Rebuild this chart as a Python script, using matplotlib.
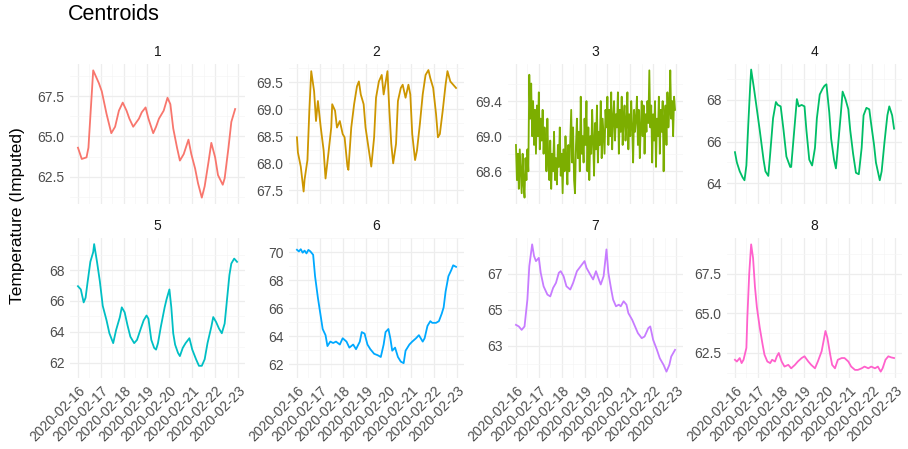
import matplotlib.pyplot as plt
import matplotlib.dates as mdates
from datetime import datetime, timedelta
import numpy as np

plt.rcParams['font.family'] = ['Liberation Sans', 'DejaVu Sans']

start = datetime(2020, 2, 16)
day_labels = ["2020-02-16", "2020-02-17", "2020-02-18", "2020-02-19",
              "2020-02-20", "2020-02-21", "2020-02-22", "2020-02-23"]
colors = ["#F8766D", "#CD9600", "#7CAE00", "#00BE67",
          "#00BFC4", "#00A9FF", "#C77CFF", "#FF61CC"]

# cluster 1
hours_1 = [0, 4, 9, 11, 16, 22, 25, 30, 35, 39, 43, 47, 51, 54, 58, 64, 67, 71, 74, 79,
           82, 85, 90, 94, 97, 100, 104, 107, 111, 116, 119, 123, 126, 130, 133, 137,
           140, 144, 147, 152, 154, 158, 161, 165]
temp_1 = [64.3, 63.6, 63.7, 64.3, 69.1, 68.3, 67.8, 66.4, 65.2, 65.6, 66.6, 67.1, 66.6,
          66.1, 65.6, 66.1, 66.5, 66.8, 66.1, 65.2, 65.6, 66.1, 66.6, 67.4, 67.0, 65.5,
          64.3, 63.5, 63.9, 64.8, 63.9, 63.0, 62.1, 61.2, 61.9, 63.4, 64.6, 63.7, 62.6,
          62.0, 62.4, 64.3, 65.9, 66.7]

# cluster 2
hours_2 = [0, 1, 4, 7, 8, 11, 13, 15, 18, 20, 22, 25, 28, 30, 33, 36, 37, 40, 42, 45,
           48, 50, 53, 54, 57, 60, 63, 65, 67, 70, 72, 76, 78, 81, 83, 86, 89, 91, 95,
           97, 99, 101, 104, 106, 109, 111, 114, 117, 119, 121, 124, 126, 129, 132, 135,
           138, 140, 143, 146, 148, 150, 153, 156, 158, 161, 164, 167]
temp_2 = [68.48, 68.20, 67.94, 67.48, 67.70, 68.06, 68.97, 69.70, 69.33, 68.78, 69.15,
          68.66, 68.24, 67.72, 68.18, 68.66, 69.09, 68.97, 68.66, 68.78, 68.54, 68.48,
          67.94, 67.88, 68.66, 69.09, 69.42, 69.51, 69.27, 69.09, 68.66, 68.18, 67.94,
          68.48, 69.21, 69.51, 69.63, 69.27, 69.70, 68.97, 68.36, 68.00, 68.36, 69.15,
          69.39, 69.45, 69.21, 69.45, 69.27, 68.54, 68.06, 68.24, 68.72, 69.27, 69.63,
          69.72, 69.57, 69.39, 68.91, 68.48, 68.54, 68.97, 69.45, 69.70, 69.51, 69.45,
          69.39]

# cluster 3 (hourly, very noisy)
temp_3 = [68.90, 68.50, 68.80, 68.40, 68.85, 68.60, 68.35, 68.80, 68.45, 68.30, 68.75,
          68.50, 68.85, 68.60,
          69.70, 69.20, 69.60,
          69.00, 69.40, 68.90, 69.30, 68.80, 69.35, 69.00, 69.50, 68.85, 69.20, 68.95,
          69.30, 68.80, 69.10,
          68.90, 68.60, 69.20, 68.70, 68.50, 68.95, 68.40, 68.80, 68.60, 69.05, 68.50,
          68.75, 68.45, 68.90, 68.65, 69.10, 68.55, 68.80, 68.35, 68.85, 68.60, 69.00,
          68.70, 68.45, 68.90, 68.60,
          68.95, 69.30, 68.70, 69.10, 68.50, 68.35, 68.90, 69.20, 68.75, 69.05, 68.60,
          69.45, 68.80, 69.00,
          68.70, 69.20, 68.90, 69.40, 68.60, 69.10, 68.50, 69.00, 68.80, 69.30, 68.95,
          68.55, 69.15, 68.85, 69.35, 68.70, 69.05, 68.90, 69.40, 68.75, 69.20, 69.00,
          68.80, 69.30,
          69.10, 69.45, 68.90, 69.30, 69.00, 69.50, 68.85, 69.20, 69.40, 68.95, 69.25,
          69.10, 69.50, 68.80, 69.30, 69.05, 69.45, 68.90, 69.20, 69.35, 68.95, 69.15,
          69.50, 68.85, 69.25, 69.00, 69.40, 69.10, 68.70, 69.30, 69.05,
          69.20, 69.45, 68.90, 69.30, 68.75, 69.10, 69.40, 69.00, 69.35, 68.80, 69.25,
          69.05, 69.40, 69.15,
          69.75,
          69.10, 69.35, 68.70, 69.25, 68.95, 69.40, 68.65, 69.20, 69.00, 69.45, 68.80,
          69.30, 69.05, 69.40, 68.60, 69.20, 69.35, 68.90, 69.50, 69.10, 69.30,
          69.75, 69.20, 69.40, 69.00, 69.45, 69.30]
hours_3 = np.linspace(0, 167, len(temp_3))

# cluster 4
hours_4 = [0, 2, 5, 8, 10, 12, 14, 16, 17, 20, 23, 26, 30, 32, 35, 37, 40, 43, 45, 48,
           51, 54, 58, 59, 62, 65, 67, 70, 73, 75, 78, 81, 84, 86, 89, 92, 94, 96, 99,
           101, 104, 106, 108, 111, 113, 116, 119, 121, 124, 127, 130, 133, 135, 138,
           141, 143, 146, 148, 152, 154, 157, 160, 162, 165, 167]
temp_4 = [65.49, 65.00, 64.57, 64.28, 64.14, 64.85, 66.84, 68.68, 69.46, 68.54, 67.55,
          66.55, 65.13, 64.57, 64.35, 65.42, 67.12, 67.90, 67.76, 67.69, 66.55, 65.28,
          64.78, 64.78, 66.41, 68.04, 67.69, 67.76, 67.69, 66.55, 65.13, 64.85, 65.70,
          67.12, 68.26, 68.54, 68.68, 68.75, 67.40, 66.13, 65.13, 64.71, 65.70, 67.26,
          68.40, 68.04, 67.55, 66.55, 65.42, 64.50, 64.43, 65.70, 67.26, 67.62, 67.55,
          66.84, 65.84, 64.99, 64.14, 64.57, 65.99, 67.26, 67.69, 67.26, 66.62]

# cluster 5
hours_5 = [0, 3, 6, 8, 10, 13, 16, 17, 20, 23, 26, 30, 33, 37, 40, 44, 46, 49, 52, 55,
           59, 62, 66, 69, 72, 74, 77, 80, 82, 84, 87, 91, 93, 96, 98, 100, 102, 105,
           107, 110, 113, 117, 120, 124, 127, 130, 133, 136, 140, 142, 145, 148, 151,
           154, 156, 159, 161, 164, 167]
temp_5 = [66.95, 66.74, 65.90, 66.20, 67.16, 68.53, 69.16, 69.68, 68.53, 67.26, 65.68,
          64.74, 63.90, 63.26, 64.10, 64.95, 65.58, 65.26, 64.42, 63.68, 63.26, 63.47,
          64.21, 64.74, 65.05, 64.84, 63.47, 62.95, 62.84, 63.26, 64.32, 65.58, 66.10,
          66.74, 65.58, 63.90, 63.16, 62.63, 62.42, 62.95, 63.26, 63.58, 62.84, 62.21,
          61.79, 61.79, 62.21, 63.26, 64.32, 64.95, 64.63, 64.21, 63.90, 64.53, 65.79,
          67.68, 68.42, 68.74, 68.53]

# cluster 6
hours_6 = [0, 2, 4, 6, 8, 10, 12, 14, 17, 19, 22, 25, 27, 30, 32, 35, 38, 41, 45, 48,
           52, 55, 59, 62, 66, 68, 71, 74, 77, 81, 85, 88, 91, 93, 96, 98, 100, 103,
           106, 109, 112, 114, 118, 121, 125, 128, 132, 134, 137, 140, 142, 146, 149,
           152, 154, 156, 159, 162, 164, 167]
temp_6 = [70.16, 70.04, 70.20, 69.95, 70.10, 69.90, 70.15, 70.05, 69.80, 68.27, 66.72,
          65.39, 64.50, 64.06, 63.28, 63.60, 63.50, 63.60, 63.39, 63.84, 63.60, 63.17,
          63.39, 63.06, 63.60, 64.28, 64.17, 63.39, 63.06, 62.73, 62.62, 62.50, 63.39,
          64.28, 64.50, 63.84, 62.95, 63.17, 62.50, 62.17, 62.06, 62.95, 63.39, 63.60,
          63.84, 64.06, 63.60, 63.84, 64.72, 65.06, 64.94, 64.94, 65.06, 65.60, 66.05,
          67.16, 68.27, 68.71, 69.05, 68.94]

# cluster 7
hours_7 = [0, 3, 6, 9, 12, 14, 17, 19, 21, 24, 26, 29, 33, 36, 39, 42, 45, 47, 50, 53,
           57, 60, 64, 68, 72, 74, 78, 81, 84, 87, 89, 92, 95, 97, 100, 102, 105, 108,
           110, 113, 116, 118, 122, 125, 128, 132, 135, 139, 141, 144, 148, 151, 155,
           158, 161, 163, 167]
temp_7 = [64.15, 64.06, 63.87, 64.06, 65.55, 67.41, 68.62, 67.97, 67.69, 67.87, 67.04,
          66.29, 65.83, 65.73, 66.20, 66.48, 67.04, 67.13, 66.85, 66.29, 66.11, 66.48,
          67.13, 67.41, 67.69, 67.32, 66.94, 66.67, 67.13, 66.67, 66.39, 66.85, 68.34,
          67.04, 66.11, 65.55, 65.18, 65.27, 65.18, 65.46, 65.27, 64.80, 64.43, 64.06,
          63.69, 63.41, 63.50, 63.97, 64.06, 63.32, 62.76, 62.29, 61.92, 61.55, 61.92,
          62.39, 62.76]

# cluster 8
hours_8 = [0, 2, 5, 7, 9, 12, 13, 15, 17, 19, 21, 23, 26, 29, 31, 34, 37, 39, 42, 44,
           46, 49, 52, 56, 59, 63, 66, 70, 73, 77, 80, 84, 87, 91, 93, 95, 97, 100, 102,
           105, 108, 112, 115, 119, 122, 126, 129, 133, 136, 140, 143, 147, 150, 153,
           155, 158, 161, 164, 167]
temp_8 = [62.07, 61.96, 62.18, 61.86, 62.07, 62.82, 64.75, 67.54, 69.37, 68.51, 66.68,
          65.40, 64.11, 63.04, 62.39, 61.96, 61.86, 62.07, 61.96, 62.29, 62.50, 61.96,
          61.64, 61.75, 61.53, 61.75, 61.96, 62.18, 62.29, 61.96, 61.75, 61.53, 61.96,
          62.61, 63.25, 63.89, 63.47, 62.39, 61.75, 61.53, 62.07, 62.18, 62.18, 61.96,
          61.64, 61.43, 61.43, 61.53, 61.64, 61.53, 61.64, 61.53, 61.64, 61.32, 61.53,
          62.07, 62.29, 62.22, 62.18]

series = [(hours_1, temp_1), (hours_2, temp_2), (hours_3, temp_3), (hours_4, temp_4),
          (hours_5, temp_5), (hours_6, temp_6), (hours_7, temp_7), (hours_8, temp_8)]

y_ticks = [[62.5, 65.0, 67.5], [67.5, 68.0, 68.5, 69.0, 69.5], [68.6, 69.0, 69.4],
           [64, 66, 68], [62, 64, 66, 68], [62, 64, 66, 68, 70], [63, 65, 67],
           [62.5, 65.0, 67.5]]
y_fmt = ["{:.1f}", "{:.1f}", "{:.1f}", "{:.0f}", "{:.0f}", "{:.0f}", "{:.0f}", "{:.1f}"]


def to_dates(hours):
    return mdates.date2num([start + timedelta(hours=float(h)) for h in hours])


W, H = 908, 449
fig = plt.figure(figsize=(W / 100, H / 100), dpi=100)
fig.patch.set_facecolor("white")

panel_left = [70, 289, 508, 727]
panel_w = 175
row_top = [64, 238]
row_h = [140, 140]

day_nums = to_dates([24 * i for i in range(8)])
half_nums = to_dates([24 * i + 12 for i in range(7)])
x_lo, x_hi = to_dates([-8.35, 175.35])

for i, (hrs, temps) in enumerate(series):
    r, c = divmod(i, 4)
    left = panel_left[c] / W
    bottom = 1 - (row_top[r] + row_h[r]) / H
    ax = fig.add_axes([left, bottom, panel_w / W, row_h[r] / H])
    ax.plot(to_dates(hrs), temps, color=colors[i], lw=1.3)
    ax.set_xlim(x_lo, x_hi)

    ticks = y_ticks[i]
    step = ticks[1] - ticks[0]
    ax.set_yticks(ticks)
    ax.set_yticklabels([y_fmt[i].format(t) for t in ticks])
    ax.set_yticks([t + step / 2 for t in [ticks[0] - step] + ticks], minor=True)
    ax.set_xticks(day_nums)
    ax.set_xticks(half_nums, minor=True)
    if r == 1:
        ax.set_xticklabels(day_labels, rotation=45, ha="right",
                           rotation_mode="anchor")
    else:
        ax.set_xticklabels([])

    ax.grid(which="major", color="#EDEDED", lw=0.9)
    ax.grid(which="minor", color="#F5F5F5", lw=0.5)
    ax.set_axisbelow(True)
    for s in ax.spines.values():
        s.set_visible(False)
    ax.tick_params(which="both", length=0, labelsize=10, colors="#4D4D4D", pad=4)
    ax.set_title(str(i + 1), fontsize=10, color="#1A1A1A", pad=6)

fig.text(68 / W, 1 - 15 / H, "Centroids", fontsize=15.5, va="center", ha="left",
         color="black")
fig.text(18 / W, 1 - 216 / H, "Temperature (Imputed)", fontsize=12.5, rotation=90,
         va="center", ha="center", color="black")

fig.savefig("out.png", dpi=100)
